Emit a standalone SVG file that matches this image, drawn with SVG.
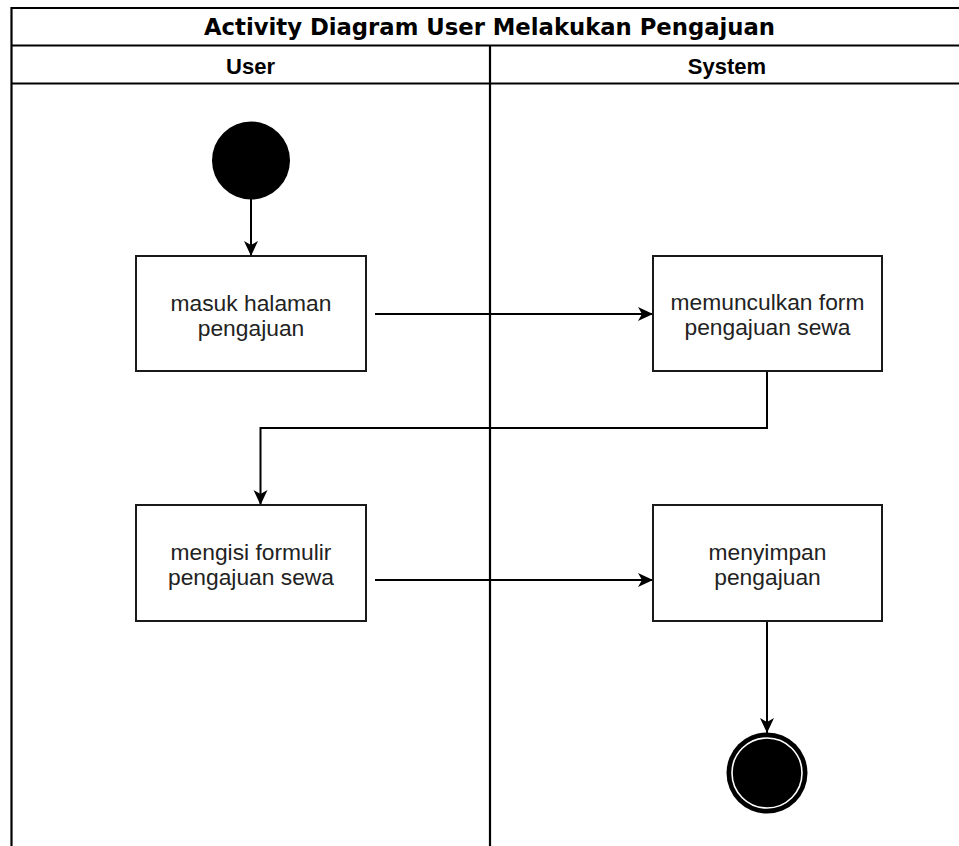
<svg xmlns="http://www.w3.org/2000/svg" width="959" height="846" viewBox="0 0 959 846">
  <style>
    .frame { fill: none; stroke: #000; stroke-width: 2.2; }
    .title { font-family: "DejaVu Sans", Verdana, sans-serif; font-weight: bold; font-size: 22.8px; fill: #000; text-anchor: middle; }
    .lane { font-family: "Liberation Sans", Arial, Helvetica, sans-serif; font-weight: bold; font-size: 22px; fill: #000; text-anchor: middle; }
    .act rect { fill: #fff; stroke: #1a1a1a; stroke-width: 2; }
    .act text { font-family: "Liberation Sans", Arial, Helvetica, sans-serif; font-size: 22.8px; fill: #222; text-anchor: middle; }
    .edge { fill: none; stroke: #000; stroke-width: 2; }
  </style>
  <defs>
    <marker id="arrow" markerUnits="userSpaceOnUse" viewBox="0 0 16 16" refX="15" refY="8" markerWidth="16" markerHeight="16" orient="auto">
      <path d="M0,1 L15,8 L0,15 L4,8 Z" fill="#000"/>
    </marker>
  </defs>

  <rect width="959" height="846" fill="#fff"/>

  <!-- swimlane pool -->
  <g id="pool">
    <line class="frame" x1="11.5" y1="8" x2="959" y2="8"/>
    <line class="frame" x1="11.5" y1="45.5" x2="959" y2="45.5"/>
    <line class="frame" x1="11.5" y1="83.5" x2="959" y2="83.5"/>
    <line class="frame" x1="11.5" y1="7" x2="11.5" y2="846"/>
    <line class="frame" x1="490" y1="45.5" x2="490" y2="846"/>
    <text class="title" x="489.5" y="35" textLength="571" lengthAdjust="spacingAndGlyphs">Activity Diagram User Melakukan Pengajuan</text>
    <text class="lane" x="250.5" y="74">User</text>
    <text class="lane" x="727" y="74">System</text>
  </g>

  <!-- connectors -->
  <g id="connectors">
    <line class="edge" x1="251" y1="199" x2="251" y2="256" marker-end="url(#arrow)"/>
    <line class="edge" x1="375" y1="314" x2="653" y2="314" marker-end="url(#arrow)"/>
    <polyline class="edge" points="767,371 767,428 260.5,428 260.5,505" marker-end="url(#arrow)"/>
    <line class="edge" x1="375" y1="580" x2="653" y2="580" marker-end="url(#arrow)"/>
    <line class="edge" x1="767" y1="621" x2="767" y2="733" marker-end="url(#arrow)"/>
  </g>

  <!-- start node -->
  <g id="start">
    <circle cx="251" cy="160.5" r="39" fill="#000"/>
  </g>

  <g id="masuk-halaman" class="act">
    <rect x="136" y="256" width="230" height="115"/>
    <text x="251" y="311">masuk halaman</text>
    <text x="251" y="336">pengajuan</text>
  </g>

  <g id="memunculkan-form" class="act">
    <rect x="653" y="256" width="229" height="115"/>
    <text x="767.5" y="310">memunculkan form</text>
    <text x="767.5" y="335">pengajuan sewa</text>
  </g>

  <g id="mengisi-formulir" class="act">
    <rect x="136" y="505" width="230" height="116"/>
    <text x="251" y="560">mengisi formulir</text>
    <text x="251" y="585">pengajuan sewa</text>
  </g>

  <g id="menyimpan" class="act">
    <rect x="653" y="505" width="229" height="116"/>
    <text x="767.5" y="560">menyimpan</text>
    <text x="767.5" y="585">pengajuan</text>
  </g>

  <!-- final node -->
  <g id="end">
    <circle cx="767" cy="773" r="40.5" fill="#000"/>
    <circle cx="767" cy="773" r="35" fill="none" stroke="#fff" stroke-width="1.6"/>
  </g>
</svg>
